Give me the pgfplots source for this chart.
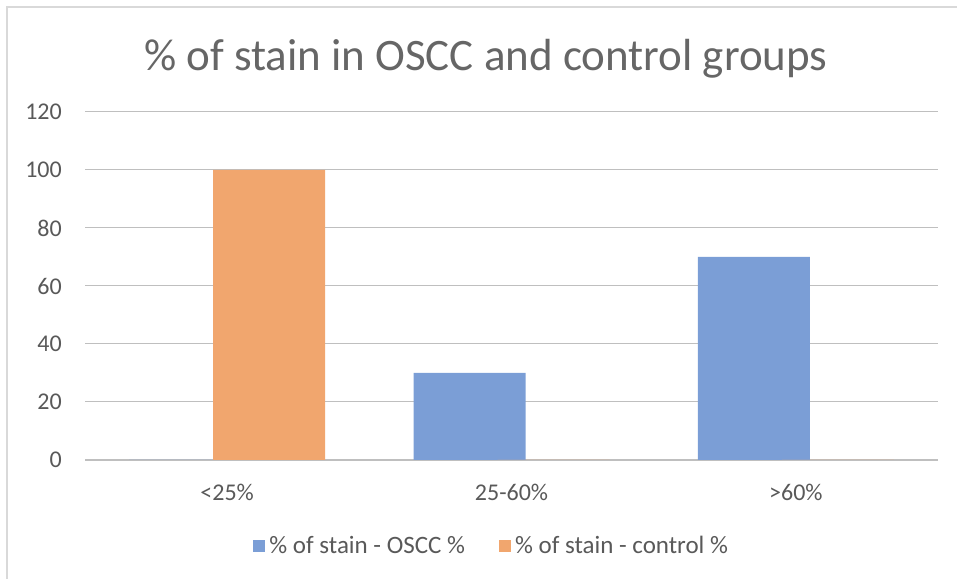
\documentclass[border=0pt]{standalone}
\usepackage{pgfplots}
\pgfplotsset{compat=1.18}
\usepackage{fontspec}
\setmainfont{Carlito}
\definecolor{txt}{HTML}{595959}
\definecolor{ttl}{HTML}{666666}
\definecolor{grid}{HTML}{E6E6E6}
\definecolor{base}{HTML}{BFBFBF}
\definecolor{frame}{HTML}{D9D9D9}
\definecolor{oscc}{HTML}{7B9ED6}
\definecolor{ctrl}{HTML}{F1A66E}
\begin{document}
\begin{tikzpicture}[x=1bp,y=1bp]
\path[use as bounding box] (0,0) rectangle (957,579);
\draw[frame, line width=1.5bp] (7,0) -- (7,572) -- (957,572);
\begin{axis}[
  at={(85bp,119bp)}, anchor=south west,
  scale only axis, width=853bp, height=348bp,
  xmin=-0.5, xmax=2.5, ymin=0, ymax=120,
  xtick={0,1,2}, xticklabels={<25\%, 25-60\%, >60\%},
  ytick={0,20,...,120},
  major tick length=0pt, tick style={draw=none},
  xmajorgrids=false, ymajorgrids, grid style={grid, line width=1bp},
  axis x line*=bottom, axis y line*=left,
  y axis line style={draw=none},
  x axis line style={base, line width=2.5bp},
  /pgf/number format/assume math mode=true,
  tick label style={font=\fontsize{24bp}{28bp}\selectfont, text=txt},
  yticklabel style={anchor=east, inner sep=0pt, xshift=-23bp},
  xticklabel style={anchor=center, inner sep=0pt, yshift=-32bp},
  title={\% of stain in OSCC and control groups},
  title style={at={(0.470,1.136)}, anchor=center, font=\fontsize{45bp}{50bp}\selectfont, text=ttl},
  legend columns=2,
  legend style={at={(0.478,-0.247)}, anchor=center, draw=none, fill=none,
    font=\fontsize{25bp}{28bp}\selectfont, text=txt,
    nodes={inner xsep=4bp},
    /tikz/every even column/.append style={column sep=30bp}},
  ybar, bar width=112bp,
]
\addplot[fill=oscc, draw=none, bar shift=-42bp,
  legend image code/.code={\fill[oscc] (0bp,-6bp) rectangle (12bp,6bp);}]
  coordinates {(0,0) (1,30) (2,70)};
\addplot[fill=ctrl, draw=none, bar shift=42bp,
  legend image code/.code={\fill[ctrl] (0bp,-6bp) rectangle (12bp,6bp);}]
  coordinates {(0,100) (1,0) (2,0)};
\legend{\% of stain - OSCC \%, \% of stain - control \%}
\end{axis}
\end{tikzpicture}
\end{document}
